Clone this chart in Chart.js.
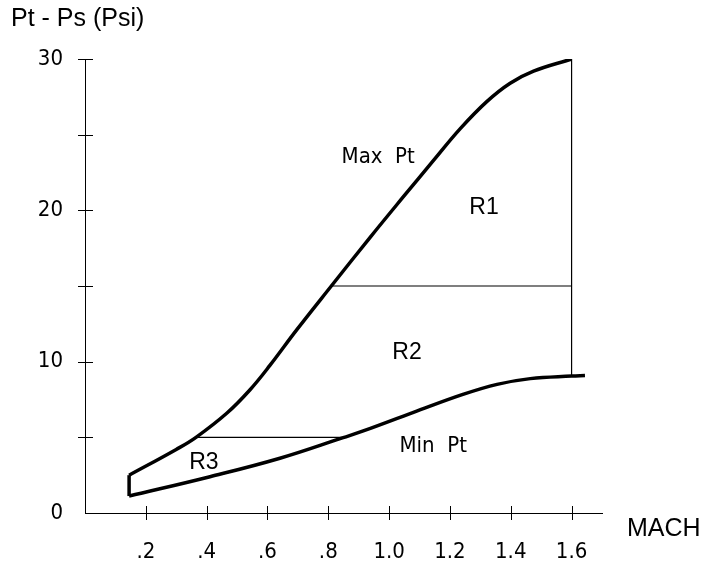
<!DOCTYPE html>
<html>
<head>
<meta charset="utf-8">
<script src="https://cdn.jsdelivr.net/npm/chart.js@4"></script>
<style>
  body { margin: 0; background: #fff; }
  #wrap { width: 718px; height: 561px; }
</style>
</head>
<body>
<div id="wrap"><canvas id="chart"></canvas></div>
<script>
// Max Pt curve (Mach, psi)
const maxMach = [0.145, 0.30, 0.365, 0.466, 0.542, 0.608, 0.696, 0.81, 0.937, 1.047, 1.146, 1.234, 1.322, 1.398, 1.475, 1.6];
const maxPt = [2.5, 4.2, 5.0, 6.59, 8.13, 9.75, 12.1, 15.0, 18.2, 20.9, 23.3, 25.4, 27.2, 28.4, 29.2, 30];
// Min Pt curve
const minMach = [0.145, 0.411, 0.641, 0.849, 0.915, 1.08, 1.245, 1.355, 1.464, 1.6, 1.644];
const minPt = [1.12, 2.4, 3.62, 4.98, 5.42, 6.65, 7.85, 8.5, 8.88, 9.05, 9.08];
// region boundaries: [x1, y1, x2, y2]
const bounds = [
  [0.145, 1.12, 0.145, 2.5],
  [0.81, 15, 1.6, 15],
  [0.365, 5, 0.849, 5],
  [1.6, 9.05, 1.6, 30]
];
// region labels
const notes = [
  { text: 'Max  Pt', x: 0.964, y: 23.5, narrow: true },
  { text: 'R1', x: 1.312, y: 20.2 },
  { text: 'R2', x: 1.059, y: 10.6 },
  { text: 'R3', x: 0.391, y: 3.3 },
  { text: 'Min  Pt', x: 1.145, y: 4.4, narrow: true }
];
const xTicks = [0.2, 0.4, 0.6, 0.8, 1.0, 1.2, 1.4, 1.6];
const xLabels = ['.2', '.4', '.6', '.8', '1.0', '1.2', '1.4', '1.6'];
const yTicks = [0, 10, 20, 30];
const yMarks = [5, 10, 15, 20, 25, 30];

const narrow = "'DejaVu Sans'";
const wide = "'Liberation Sans', Arial, sans-serif";

const pts = (xs, ys) => xs.map((x, i) => ({ x: x, y: ys[i] }));

const datasets = [
  { data: pts(maxMach, maxPt), borderWidth: 3.5, tension: 0.4 },
  { data: pts(minMach, minPt), borderWidth: 3.5, tension: 0.4 }
];
bounds.forEach((b, i) => {
  datasets.push({ data: [{ x: b[0], y: b[1] }, { x: b[2], y: b[3] }], borderWidth: i == 0 ? 3.5 : 1.2 });
});
datasets.forEach(d => {
  d.showLine = true;
  d.borderColor = '#000';
  d.pointRadius = 0;
  d.fill = false;
});

const extras = {
  id: 'extras',
  afterDraw(chart) {
    const c = chart.ctx;
    const xs = chart.scales.x, ys = chart.scales.y;
    const left = chart.chartArea.left, bottom = chart.chartArea.bottom;
    c.save();
    c.strokeStyle = '#000';
    c.lineWidth = 1;
    c.beginPath();
    yMarks.forEach(v => {
      const py = Math.round(ys.getPixelForValue(v)) + 0.5;
      c.moveTo(left - 7, py);
      c.lineTo(left + 8, py);
    });
    xTicks.forEach(v => {
      const px = Math.round(xs.getPixelForValue(v)) + 0.5;
      c.moveTo(px, bottom - 7);
      c.lineTo(px, bottom + 7);
    });
    c.stroke();

    c.fillStyle = '#000';
    c.textBaseline = 'middle';
    c.textAlign = 'center';
    notes.forEach(n => {
      c.font = n.narrow ? 'condensed 22px ' + narrow : '23px ' + wide;
      c.fillText(n.text, xs.getPixelForValue(n.x), ys.getPixelForValue(n.y));
    });
    c.textAlign = 'left';
    c.font = '25px ' + wide;
    c.fillText('Pt - Ps (Psi)', 11, 19);
    c.font = '25px ' + wide;
    c.fillText('MACH', 627, 529);
    c.restore();
  }
};

new Chart(document.getElementById('chart'), {
  type: 'scatter',
  data: { datasets: datasets },
  options: {
    responsive: true,
    maintainAspectRatio: false,
    animation: false,
    layout: { padding: { top: 59, right: 116, left: 0, bottom: 0 } },
    plugins: { legend: { display: false }, tooltip: { enabled: false } },
    scales: {
      x: {
        type: 'linear',
        min: 0,
        max: 1.7,
        afterBuildTicks: s => { s.ticks = xTicks.map(v => ({ value: v })); },
        afterFit: s => { s.height = 48; },
        grid: { display: false, drawTicks: false },
        border: { display: true, color: '#000', width: 1 },
        ticks: {
          color: '#000',
          padding: 26,
          maxRotation: 0,
          autoSkip: false,
          font: { family: narrow, size: 22, weight: 'condensed' },
          callback: v => xLabels[xTicks.findIndex(t => Math.abs(t - v) < 1e-6)]
        }
      },
      y: {
        type: 'linear',
        min: 0,
        max: 30,
        afterBuildTicks: s => { s.ticks = yTicks.map(v => ({ value: v })); },
        afterFit: s => { s.width = 85; },
        grid: { display: false, drawTicks: false },
        border: { display: true, color: '#000', width: 1 },
        ticks: {
          color: '#000',
          padding: 22,
          font: { family: narrow, size: 22, weight: 'condensed' }
        }
      }
    }
  },
  plugins: [extras]
});
</script>
</body>
</html>
